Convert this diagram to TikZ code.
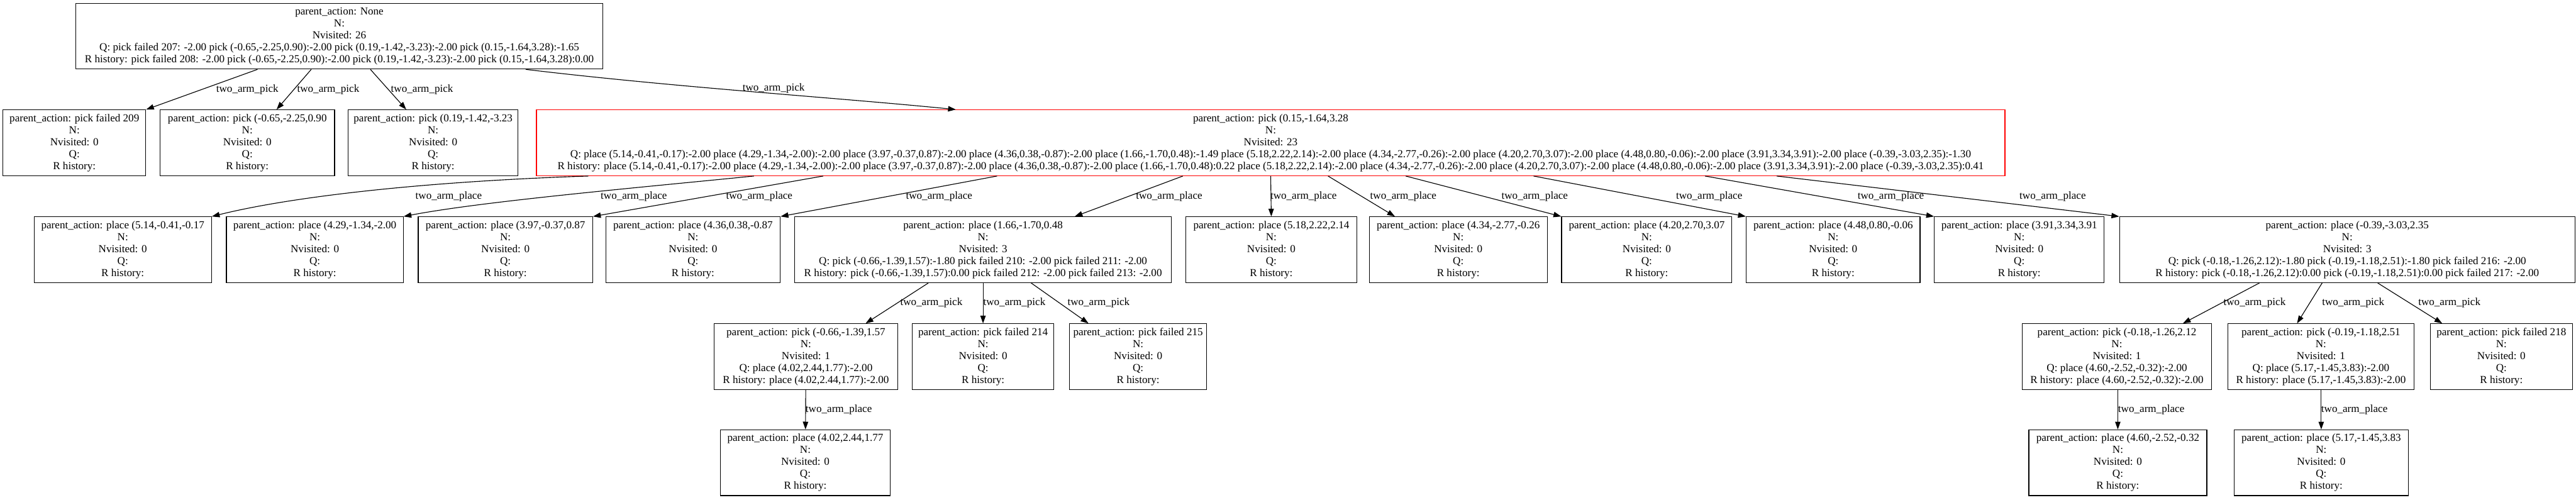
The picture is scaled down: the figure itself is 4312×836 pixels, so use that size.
\documentclass[tikz,border=0pt]{standalone}
\usepackage{fontspec}
\setmainfont{Liberation Serif}
\usetikzlibrary{arrows.meta,calc}
\newcommand{\leaf}[1]{parent\_action: #1\\N:\\Nvisited: 0\\Q:\\R history:}
\tikzset{
  tree/.style = {draw, line width=1.3pt, fill=white, align=center,
                 minimum height=110pt, inner xsep=3pt, inner ysep=3pt,
                 font=\fontsize{18}{20}\selectfont},
  hot/.style  = {tree, draw=red},
  edge/.style = {-{Triangle[length=13pt,width=9pt]}, line width=1.2pt},
  lbl/.style  = {font=\fontsize{18}{20}\selectfont, inner sep=0pt},
}

\begin{document}
\begin{tikzpicture}[x=1pt,y=-1pt]
  \useasboundingbox (0,0) rectangle (4312,836);
  % root
  \node[tree, minimum width=882pt] (root) at (568,60.5)
    {parent\_action: None\\N:\\Nvisited: 26\\
     Q: pick failed 207: -2.00 pick (-0.65,-2.25,0.90):-2.00 pick (0.19,-1.42,-3.23):-2.00 pick (0.15,-1.64,3.28):-1.65\\
     R history: pick failed 208: -2.00 pick (-0.65,-2.25,0.90):-2.00 pick (0.19,-1.42,-3.23):-2.00 pick (0.15,-1.64,3.28):0.00};
  % first picks
  \node[tree, minimum width=239pt] (a1) at (124.5,239) {\leaf{pick failed 209}};
  \node[tree, minimum width=292pt] (a2) at (414,239) {\leaf{pick (-0.65,-2.25,0.90}};
  \node[tree, minimum width=284pt] (a3) at (725,239) {\leaf{pick (0.19,-1.42,-3.23}};
  \node[hot, minimum width=2458pt] (a4) at (2127,239)
    {parent\_action: pick (0.15,-1.64,3.28\\N:\\Nvisited: 23\\
     Q: place (5.14,-0.41,-0.17):-2.00 place (4.29,-1.34,-2.00):-2.00 place (3.97,-0.37,0.87):-2.00 place (4.36,0.38,-0.87):-2.00 place (1.66,-1.70,0.48):-1.49 place (5.18,2.22,2.14):-2.00 place (4.34,-2.77,-0.26):-2.00 place (4.20,2.70,3.07):-2.00 place (4.48,0.80,-0.06):-2.00 place (3.91,3.34,3.91):-2.00 place (-0.39,-3.03,2.35):-1.30\\
     R history: place (5.14,-0.41,-0.17):-2.00 place (4.29,-1.34,-2.00):-2.00 place (3.97,-0.37,0.87):-2.00 place (4.36,0.38,-0.87):-2.00 place (1.66,-1.70,0.48):0.22 place (5.18,2.22,2.14):-2.00 place (4.34,-2.77,-0.26):-2.00 place (4.20,2.70,3.07):-2.00 place (4.48,0.80,-0.06):-2.00 place (3.91,3.34,3.91):-2.00 place (-0.39,-3.03,2.35):0.41};
  % places
  \node[tree, minimum width=297pt] (b1) at (205.5,418) {\leaf{place (5.14,-0.41,-0.17}};
  \node[tree, minimum width=296pt] (b2) at (527,418) {\leaf{place (4.29,-1.34,-2.00}};
  \node[tree, minimum width=292pt] (b3) at (846,418) {\leaf{place (3.97,-0.37,0.87}};
  \node[tree, minimum width=292pt] (b4) at (1160,418) {\leaf{place (4.36,0.38,-0.87}};
  \node[tree, minimum width=631pt] (b5) at (1645.5,418)
    {parent\_action: place (1.66,-1.70,0.48\\N:\\Nvisited: 3\\
     Q: pick (-0.66,-1.39,1.57):-1.80 pick failed 210: -2.00 pick failed 211: -2.00\\
     R history: pick (-0.66,-1.39,1.57):0.00 pick failed 212: -2.00 pick failed 213: -2.00};
  \node[tree, minimum width=286pt] (b6) at (2128,418) {\leaf{place (5.18,2.22,2.14}};
  \node[tree, minimum width=298pt] (b7) at (2441,418) {\leaf{place (4.34,-2.77,-0.26}};
  \node[tree, minimum width=285pt] (b8) at (2756.5,418) {\leaf{place (4.20,2.70,3.07}};
  \node[tree, minimum width=291pt] (b9) at (3068.5,418) {\leaf{place (4.48,0.80,-0.06}};
  \node[tree, minimum width=284pt] (b10) at (3380,418) {\leaf{place (3.91,3.34,3.91}};
  \node[tree, minimum width=762pt] (b11) at (3929,418)
    {parent\_action: place (-0.39,-3.03,2.35\\N:\\Nvisited: 3\\
     Q: pick (-0.18,-1.26,2.12):-1.80 pick (-0.19,-1.18,2.51):-1.80 pick failed 216: -2.00\\
     R history: pick (-0.18,-1.26,2.12):0.00 pick (-0.19,-1.18,2.51):0.00 pick failed 217: -2.00};
  % second picks
  \node[tree, minimum width=308pt] (c1) at (1349,597)
    {parent\_action: pick (-0.66,-1.39,1.57\\N:\\Nvisited: 1\\
     Q: place (4.02,2.44,1.77):-2.00\\R history: place (4.02,2.44,1.77):-2.00};
  \node[tree, minimum width=237pt] (c2) at (1645.5,597) {\leaf{pick failed 214}};
  \node[tree, minimum width=230pt] (c3) at (1905,597) {\leaf{pick failed 215}};
  \node[tree, minimum width=317pt] (d1) at (3543.5,597)
    {parent\_action: pick (-0.18,-1.26,2.12\\N:\\Nvisited: 1\\
     Q: place (4.60,-2.52,-0.32):-2.00\\R history: place (4.60,-2.52,-0.32):-2.00};
  \node[tree, minimum width=312pt] (d2) at (3885,597)
    {parent\_action: pick (-0.19,-1.18,2.51\\N:\\Nvisited: 1\\
     Q: place (5.17,-1.45,3.83):-2.00\\R history: place (5.17,-1.45,3.83):-2.00};
  \node[tree, minimum width=238pt] (d3) at (4187,597) {\leaf{pick failed 218}};
  % second places
  \node[tree, minimum width=284pt] (e1) at (1348,774.5) {\leaf{place (4.02,2.44,1.77}};
  \node[tree, minimum width=298pt] (f1) at (3545,774.5) {\leaf{place (4.60,-2.52,-0.32}};
  \node[tree, minimum width=291pt] (f2) at (3885.5,774.5) {\leaf{place (5.17,-1.45,3.83}};

  % edges
  \draw[edge] ($(root.south)+(-137,0)$) -- (a1.north east);
  \draw[edge] ($(root.south)+(-47,0)$) -- ($(a2.north)+(49,0)$);
  \draw[edge] ($(root.south)+(52,0)$) -- ($(a3.north)+(-45,0)$);
  \draw[edge] ($(root.south)+(312,0)$) .. controls +(250,30) and +(-200,-20) .. ($(a4.north)+(-527,0)$);
  \draw[edge] ($(a4.south)+(-1142,0)$) .. controls +(-300,10) and +(120,-30) .. (b1.north east);
  \draw[edge] ($(a4.south)+(-865,0)$) .. controls +(-200,20) and +(130,-25) .. (b2.north east);
  \draw[edge] ($(a4.south)+(-749,0)$) -- (b3.north east);
  \draw[edge] ($(a4.south)+(-458,0)$) -- (b4.north east);
  \draw[edge] ($(a4.south)+(-147,0)$) -- ($(b5.north)+(153.5,0)$);
  \draw[edge] (a4.south) -- (b6.north);
  \draw[edge] ($(a4.south)+(96,0)$) -- ($(b7.north)+(-106,0)$);
  \draw[edge] ($(a4.south)+(226,0)$) -- (b8.north west);
  \draw[edge] ($(a4.south)+(440,0)$) -- (b9.north west);
  \draw[edge] ($(a4.south)+(727,0)$) -- (b10.north west);
  \draw[edge] ($(a4.south)+(847,0)$) -- (b11.north west);
  \draw[edge] ($(b5.south)+(-91.5,0)$) -- ($(c1.north)+(100,0)$);
  \draw[edge] (b5.south) -- (c2.north);
  \draw[edge] ($(b5.south)+(80.5,0)$) -- ($(c3.north)+(-83,0)$);
  \draw[edge] ($(b11.south)+(-147,0)$) -- ($(d1.north)+(110.5,0)$);
  \draw[edge] ($(b11.south)+(-42,0)$) -- ($(d2.north)+(-40,0)$);
  \draw[edge] ($(b11.south)+(51,0)$) -- ($(d3.north)+(-99,0)$);
  \draw[edge] (c1) -- (e1);
  \draw[edge] (d1.south -| f1.north) -- (f1.north);
  \draw[edge] (d2.south -| f2.north) -- (f2.north);

  % edge labels
  \node[lbl] (l1) at (414,150) {two\_arm\_pick};
  \node[lbl] (l2) at (549.5,150) {two\_arm\_pick};
  \node[lbl] (l3) at (706.5,150) {two\_arm\_pick};
  \node[lbl] (l4) at (1295,148) {two\_arm\_pick};
  \node[lbl] (l5) at (751,329) {two\_arm\_place};
  \node[lbl] (l6) at (1061,329) {two\_arm\_place};
  \node[lbl] (l7) at (1271,329) {two\_arm\_place};
  \node[lbl] (l8) at (1572,329) {two\_arm\_place};
  \node[lbl] (l9) at (1957,329) {two\_arm\_place};
  \node[lbl] (l10) at (2182,329) {two\_arm\_place};
  \node[lbl] (l11) at (2349,329) {two\_arm\_place};
  \node[lbl] (l12) at (2569,329) {two\_arm\_place};
  \node[lbl] (l13) at (2861,329) {two\_arm\_place};
  \node[lbl] (l14) at (3165,329) {two\_arm\_place};
  \node[lbl] (l15) at (3436,329) {two\_arm\_place};
  \node[lbl] (l16) at (1559,507) {two\_arm\_pick};
  \node[lbl] (l17) at (1698,507) {two\_arm\_pick};
  \node[lbl] (l18) at (1839,507) {two\_arm\_pick};
  \node[lbl] (l19) at (3774,507) {two\_arm\_pick};
  \node[lbl] (l20) at (3939,507) {two\_arm\_pick};
  \node[lbl] (l21) at (4100,507) {two\_arm\_pick};
  \node[lbl] (l22) at (1404,686) {two\_arm\_place};
  \node[lbl] (l23) at (3601,686) {two\_arm\_place};
  \node[lbl] (l24) at (3941,686) {two\_arm\_place};
\end{tikzpicture}
\end{document}
